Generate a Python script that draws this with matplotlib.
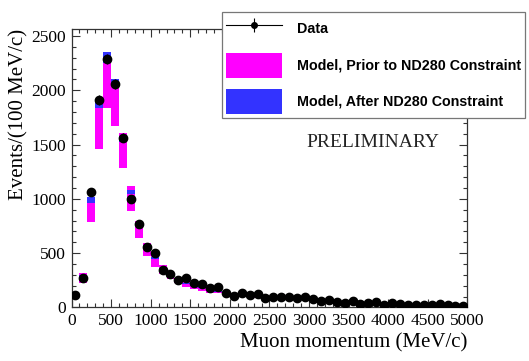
import numpy as np
import matplotlib
matplotlib.use("Agg")
import matplotlib.pyplot as plt
from matplotlib.patches import Patch
from matplotlib.ticker import MultipleLocator

# bin centres (MeV/c), 100 MeV/c wide bins
momentum = list(range(50, 5000, 100))

data = [116, 275, 1064, 1911, 2290, 2056, 1563, 1000, 771, 560,
        500, 344, 307, 252, 274, 222, 213, 176, 191, 136,
        105, 130, 115, 127, 87, 96, 96, 93, 90, 93,
        75, 63, 69, 54, 38, 63, 32, 44, 47, 26,
        41, 35, 26, 23, 26, 23, 35, 26, 14, 14]
data_err = [11, 17, 33, 44, 48, 45, 40, 32, 28, 24,
            22, 19, 18, 16, 17, 15, 15, 13, 14, 12,
            10, 11, 11, 11, 9, 10, 10, 10, 9, 10,
            9, 8, 8, 7, 6, 8, 6, 7, 7, 5,
            6, 6, 5, 5, 5, 5, 6, 5, 4, 4]

prior_lo = [85, 223, 784, 1461, 1840, 1671, 1286, 892, 639, 477,
            376, 313, 258, 222, 185, 167, 154, 136, 130, 115,
            99, 99, 94, 89, 85, 81, 77, 73, 69, 66,
            63, 60, 57, 54, 51, 48, 46, 44, 42, 40,
            38, 36, 34, 32, 30, 29, 27, 26, 24, 23]
prior_hi = [146, 315, 1000, 1860, 2280, 2080, 1609, 1123, 799, 592,
            484, 390, 329, 274, 237, 213, 197, 176, 161, 145,
            130, 124, 118, 112, 106, 101, 96, 91, 87, 83,
            79, 75, 71, 68, 64, 61, 58, 55, 52, 50,
            47, 45, 42, 40, 38, 36, 34, 32, 30, 29]
post_lo = [100, 270, 962, 1834, 2256, 2056, 1526, 1049, 746, 547,
           444, 350, 300, 250, 218, 194, 178, 159, 147, 132,
           118, 115, 109, 104, 99, 94, 90, 85, 81, 77,
           74, 70, 67, 64, 60, 57, 54, 52, 49, 47,
           44, 42, 40, 38, 36, 34, 32, 30, 28, 27]
post_hi = [118, 300, 1015, 1893, 2355, 2102, 1578, 1086, 777, 578,
           463, 368, 315, 262, 228, 204, 188, 168, 155, 139,
           125, 120, 114, 109, 103, 98, 94, 89, 85, 81,
           77, 73, 70, 66, 63, 60, 57, 54, 51, 49,
           46, 44, 42, 40, 38, 36, 34, 32, 30, 29]

bin_width = 100
magenta = "#FF00FF"
blue = "#3333FF"

fig = plt.figure(figsize=(5.29, 3.61), dpi=100)
ax = fig.add_axes([0.1352, 0.1482, 0.7482, 0.7715])

ax.bar(momentum, np.array(prior_hi) - np.array(prior_lo), bottom=prior_lo,
       width=bin_width, color=magenta, linewidth=0, zorder=2)
ax.bar(momentum, np.array(post_hi) - np.array(post_lo), bottom=post_lo,
       width=bin_width, color=blue, linewidth=0, zorder=3)
ax.errorbar(momentum, data, yerr=data_err, fmt='o', color='black',
            ms=6, elinewidth=0.8, capsize=0, zorder=4)

ax.set_xlim(0, 5000)
ax.set_ylim(0, 2565)

serif = "Liberation Serif"
ax.xaxis.set_major_locator(MultipleLocator(500))
ax.xaxis.set_minor_locator(MultipleLocator(100))
ax.yaxis.set_major_locator(MultipleLocator(500))
ax.yaxis.set_minor_locator(MultipleLocator(100))
ax.tick_params(which='both', direction='in', top=True, right=True,
               color='#333333', width=0.8)
ax.tick_params(which='major', length=6, labelsize=12.5, pad=4)
ax.tick_params(which='minor', length=3)
for lab in ax.get_xticklabels() + ax.get_yticklabels():
    lab.set_fontfamily(serif)
for s in ax.spines.values():
    s.set_color('#333333')
    s.set_linewidth(0.9)

ax.set_xlabel("Muon momentum (MeV/c)", fontfamily=serif, fontsize=15,
              loc='right', labelpad=3)
ax.set_ylabel("Events/(100 MeV/c)", fontfamily=serif, fontsize=15,
              loc='top', labelpad=2)

fig.text(0.705, 0.604, "PRELIMINARY", fontfamily=serif, fontsize=14,
         ha='center', va='center', color='#222222')

# legend
h_data = ax.errorbar([np.nan], [np.nan], yerr=[1], fmt='o-', color='black',
                     ms=4, lw=0.8, elinewidth=0.8, capsize=0)
handles = [h_data, Patch(facecolor=magenta, edgecolor='none'),
           Patch(facecolor=blue, edgecolor='none')]
labels = ["Data", "Model, Prior to ND280 Constraint", "Model, After ND280 Constraint"]
leg = fig.legend(handles, labels, loc='upper left', bbox_to_anchor=(0.42, 0.966),
                 prop={'family': 'Liberation Sans', 'weight': 'bold', 'size': 10.3},
                 handlelength=3.9, handleheight=2.3, labelspacing=0.78,
                 handletextpad=1.0, borderpad=0.3, borderaxespad=0,
                 fancybox=False, framealpha=1, edgecolor='#777777')
leg.get_frame().set_linewidth(0.9)

fig.savefig("out.png", dpi=100)
